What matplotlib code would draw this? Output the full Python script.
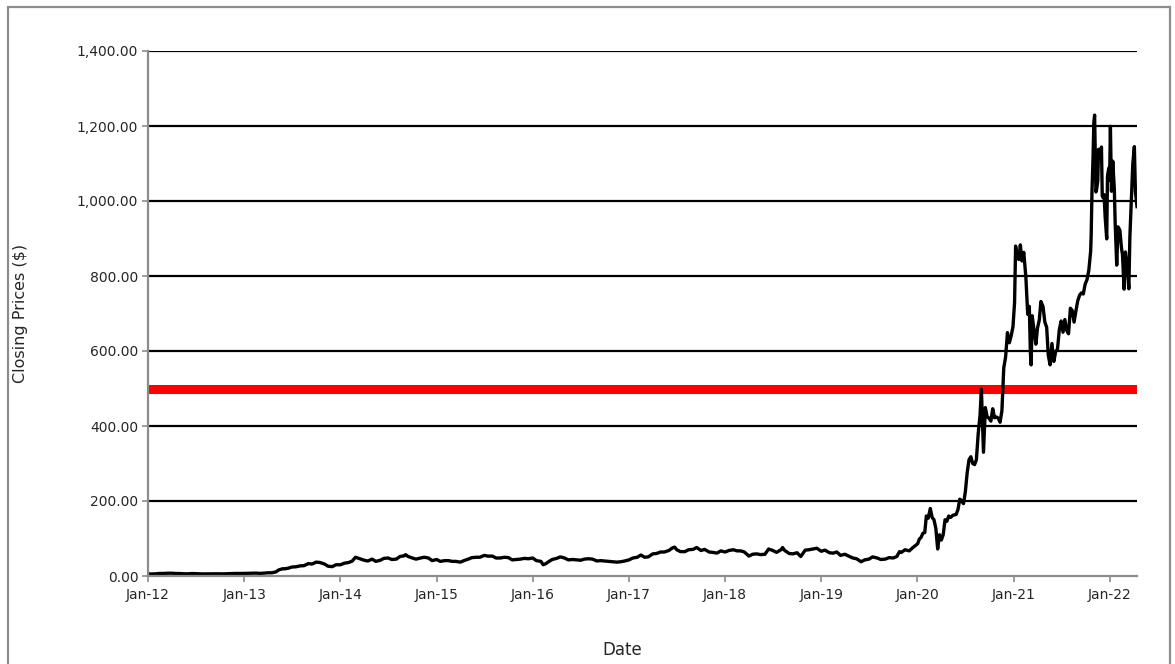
import matplotlib
matplotlib.use("Agg")
import matplotlib.pyplot as plt
import matplotlib.dates as mdates
import matplotlib.ticker as mticker
from matplotlib.patches import Rectangle
import numpy as np
import pandas as pd

# ---- data (closing prices, $) ----
dates_2012_2019 = [
    "2012-01-03", "2012-01-15", "2012-02-01", "2012-02-15", "2012-03-01", "2012-03-15", "2012-04-01", "2012-04-15",
    "2012-05-01", "2012-05-15", "2012-06-01", "2012-06-15", "2012-07-01", "2012-07-15", "2012-08-01", "2012-08-15",
    "2012-09-01", "2012-09-15", "2012-10-01", "2012-10-15", "2012-11-01", "2012-11-15", "2012-12-01", "2012-12-15",
    "2013-01-01", "2013-01-15", "2013-02-01", "2013-02-15", "2013-03-01", "2013-03-15", "2013-04-01", "2013-04-15",
    "2013-05-01", "2013-05-10", "2013-05-15", "2013-05-28", "2013-06-01", "2013-06-15", "2013-07-01", "2013-07-15",
    "2013-08-01", "2013-08-15", "2013-09-01", "2013-09-15", "2013-10-01", "2013-10-15", "2013-11-01", "2013-11-15",
    "2013-12-01", "2013-12-15",
    "2014-01-01", "2014-01-15", "2014-02-01", "2014-02-15", "2014-02-27", "2014-03-15", "2014-04-01", "2014-04-15",
    "2014-05-01", "2014-05-15", "2014-06-01", "2014-06-15", "2014-07-01", "2014-07-15", "2014-08-01", "2014-08-15",
    "2014-09-01", "2014-09-05", "2014-09-15", "2014-10-01", "2014-10-15", "2014-11-01", "2014-11-15", "2014-12-01",
    "2014-12-15",
    "2015-01-01", "2015-01-15", "2015-02-01", "2015-02-15", "2015-03-01", "2015-03-15", "2015-04-01", "2015-04-15",
    "2015-05-01", "2015-05-15", "2015-06-01", "2015-06-15", "2015-07-01", "2015-07-15", "2015-08-01", "2015-08-15",
    "2015-09-01", "2015-09-15", "2015-10-01", "2015-10-15", "2015-11-01", "2015-11-15", "2015-12-01", "2015-12-15",
    "2016-01-01", "2016-01-15", "2016-02-01", "2016-02-10", "2016-02-20", "2016-03-01", "2016-03-15", "2016-04-01",
    "2016-04-15", "2016-05-01", "2016-05-15", "2016-06-01", "2016-06-15", "2016-07-01", "2016-07-15", "2016-08-01",
    "2016-08-15", "2016-09-01", "2016-09-15", "2016-10-01", "2016-10-15", "2016-11-01", "2016-11-15", "2016-12-01",
    "2016-12-15",
    "2017-01-01", "2017-01-15", "2017-02-01", "2017-02-15", "2017-03-01", "2017-03-15", "2017-04-01", "2017-04-15",
    "2017-05-01", "2017-05-15", "2017-06-01", "2017-06-15", "2017-06-23", "2017-07-01", "2017-07-15", "2017-08-01",
    "2017-08-15", "2017-09-01", "2017-09-15", "2017-10-01", "2017-10-15", "2017-11-01", "2017-11-15", "2017-12-01",
    "2017-12-15",
    "2018-01-01", "2018-01-15", "2018-02-01", "2018-02-15", "2018-03-01", "2018-03-15", "2018-04-01", "2018-04-15",
    "2018-05-01", "2018-05-15", "2018-06-01", "2018-06-15", "2018-07-01", "2018-07-15", "2018-08-01", "2018-08-07",
    "2018-08-15", "2018-09-01", "2018-09-15", "2018-10-01", "2018-10-15", "2018-11-01", "2018-11-15", "2018-12-01",
    "2018-12-15",
    "2019-01-01", "2019-01-15", "2019-02-01", "2019-02-15", "2019-03-01", "2019-03-15", "2019-04-01", "2019-04-15",
    "2019-05-01", "2019-05-15", "2019-06-01", "2019-06-15", "2019-07-01", "2019-07-15", "2019-08-01", "2019-08-15",
    "2019-09-01", "2019-09-15", "2019-10-01", "2019-10-15", "2019-10-25", "2019-11-01", "2019-11-15", "2019-12-01",
    "2019-12-15",
]
prices_2012_2019 = [
    5.6, 5.4, 5.9, 6.8, 6.8, 7.3, 7.4, 6.7,
    6.6, 5.9, 5.8, 6.5, 6.3, 5.7, 5.5, 5.7,
    5.8, 5.9, 5.8, 5.7, 6.3, 6.5, 6.8, 6.7,
    7.0, 7.1, 7.5, 7.6, 7.0, 7.5, 8.6, 8.6,
    11.0, 15.5, 17.0, 19.5, 19.0, 20.5, 24.0, 24.5,
    27.0, 27.5, 33.0, 32.0, 37.0, 36.0, 32.0, 26.0,
    25.0, 30.0,
    30.0, 34.0, 36.0, 40.0, 50.0, 46.0, 42.0, 40.0,
    45.0, 39.0, 42.0, 47.0, 48.0, 44.0, 45.0, 52.0,
    54.0, 57.0, 52.0, 48.0, 45.0, 48.0, 50.0, 48.0,
    41.0,
    44.0, 39.0, 41.0, 41.0, 39.0, 39.0, 37.0, 41.0,
    45.0, 49.0, 50.0, 50.0, 55.0, 53.0, 53.0, 48.0,
    48.0, 50.0, 49.0, 43.0, 44.0, 45.0, 47.0, 46.0,
    48.0, 41.0, 39.0, 30.0, 33.0, 38.0, 44.0, 47.0,
    51.0, 48.0, 43.0, 44.0, 43.0, 42.0, 45.0, 46.0,
    45.0, 40.0, 41.0, 40.0, 39.0, 38.0, 37.0, 38.0,
    40.0,
    43.0, 48.0, 50.0, 56.0, 50.0, 51.0, 59.0, 60.0,
    64.0, 64.0, 68.0, 75.0, 77.0, 70.0, 65.0, 65.0,
    70.0, 71.0, 76.0, 68.0, 71.0, 64.0, 63.0, 61.0,
    67.0,
    64.0, 68.0, 70.0, 67.0, 67.0, 64.0, 53.0, 58.0,
    59.0, 57.0, 58.0, 72.0, 68.0, 63.0, 70.0, 76.0,
    68.0, 60.0, 59.0, 62.0, 52.0, 69.0, 70.0, 72.0,
    74.0,
    66.0, 69.0, 62.0, 61.0, 64.0, 55.0, 58.0, 53.0,
    48.0, 46.0, 38.0, 43.0, 45.0, 51.0, 48.0, 44.0,
    45.0, 49.0, 48.0, 52.0, 65.0, 63.0, 70.0, 67.0,
    76.0,
]

dates_2020_2022 = [
    "2020-01-02", "2020-01-08", "2020-01-15", "2020-01-22", "2020-01-29", "2020-02-04", "2020-02-11", "2020-02-19",
    "2020-02-26", "2020-03-04", "2020-03-11", "2020-03-18", "2020-03-25", "2020-04-01", "2020-04-08", "2020-04-15",
    "2020-04-22", "2020-04-29", "2020-05-06", "2020-05-13", "2020-05-20", "2020-05-27", "2020-06-03", "2020-06-10",
    "2020-06-17", "2020-06-24", "2020-07-01", "2020-07-08", "2020-07-13", "2020-07-15", "2020-07-22", "2020-07-29",
    "2020-08-05", "2020-08-12", "2020-08-19", "2020-08-26", "2020-08-31", "2020-09-08", "2020-09-15", "2020-09-22",
    "2020-09-29", "2020-10-06", "2020-10-13", "2020-10-20", "2020-10-27", "2020-11-03", "2020-11-10", "2020-11-17",
    "2020-11-24", "2020-12-01", "2020-12-08", "2020-12-15", "2020-12-22", "2020-12-29",
    "2021-01-04", "2021-01-08", "2021-01-13", "2021-01-20", "2021-01-26", "2021-02-01", "2021-02-08", "2021-02-16",
    "2021-02-23", "2021-03-01", "2021-03-05", "2021-03-08", "2021-03-12", "2021-03-19", "2021-03-26", "2021-04-01",
    "2021-04-08", "2021-04-14", "2021-04-22", "2021-04-29", "2021-05-06", "2021-05-12", "2021-05-19", "2021-05-26",
    "2021-06-02", "2021-06-09", "2021-06-16", "2021-06-23", "2021-06-30", "2021-07-07", "2021-07-14", "2021-07-21",
    "2021-07-28", "2021-08-04", "2021-08-11", "2021-08-18", "2021-08-25", "2021-09-01", "2021-09-08", "2021-09-15",
    "2021-09-22", "2021-09-29", "2021-10-06", "2021-10-13", "2021-10-20", "2021-10-22", "2021-10-25", "2021-10-29",
    "2021-11-01", "2021-11-04", "2021-11-09", "2021-11-12", "2021-11-16", "2021-11-19", "2021-11-24", "2021-11-30",
    "2021-12-03", "2021-12-06", "2021-12-10", "2021-12-14", "2021-12-20", "2021-12-23", "2021-12-28", "2021-12-31",
    "2022-01-03", "2022-01-07", "2022-01-12", "2022-01-18", "2022-01-21", "2022-01-27", "2022-02-01", "2022-02-08",
    "2022-02-14", "2022-02-18", "2022-02-24", "2022-03-01", "2022-03-08", "2022-03-14", "2022-03-18", "2022-03-24",
    "2022-03-29", "2022-04-04", "2022-04-08", "2022-04-12", "2022-04-14",
]
prices_2020_2022 = [
    86, 98, 103, 114, 116, 160, 154, 180,
    156, 150, 127, 72, 110, 96, 110, 150,
    146, 160, 156, 161, 163, 164, 177, 205,
    200, 193, 224, 275, 300, 310, 318, 300,
    297, 310, 380, 430, 498, 330, 449, 424,
    421, 413, 446, 422, 424, 421, 410, 441,
    555, 584, 649, 622, 640, 665,
    729, 880, 854, 844, 883, 840, 863, 796,
    698, 719, 597, 563, 694, 654, 618, 661,
    683, 732, 719, 677, 663, 589, 563, 620,
    572, 598, 605, 657, 680, 650, 684, 655,
    646, 714, 708, 677, 707, 734, 749, 755,
    752, 778, 790, 815, 866, 910, 1024, 1114,
    1208, 1229, 1024, 1033, 1054, 1138, 1116, 1144,
    1014, 1009, 1017, 958, 899, 1067, 1088, 1056,
    1199, 1026, 1106, 1030, 943, 829, 931, 922,
    875, 856, 765, 864, 825, 766, 905, 1013,
    1099, 1145, 1025, 1000, 985,
]

threshold = 500.0
y_ticks = [0, 200, 400, 600, 800, 1000, 1200, 1400]
x_tick_years = list(range(2012, 2023))

dates = pd.to_datetime(dates_2012_2019 + dates_2020_2022)
prices = np.array(prices_2012_2019 + prices_2020_2022, dtype=float)

# ---- figure ----
W, H = 1175, 664
fig = plt.figure(figsize=(W / 100, H / 100), dpi=100)
fig.patch.set_facecolor("white")

# outer chart-area border
fig.patches.append(Rectangle((8 / W, -0.05), (1170 - 8) / W, 1 - 7 / H + 0.05,
                             transform=fig.transFigure, fill=False,
                             edgecolor="#8c8c8c", linewidth=1.6, zorder=0))

ax = fig.add_axes([148 / W, 1 - 576 / H, (1137 - 148) / W, (576 - 51) / H])
ax.set_facecolor("white")

ax.set_ylim(0, 1400)
ax.set_xlim(dates[0], dates[-1])

for v in y_ticks[1:]:
    ax.axhline(v, color="black", linewidth=1.6, zorder=1)

ax.axhline(threshold, color="#ff0000", linewidth=6.5, zorder=2)
ax.plot(dates, prices, color="black", linewidth=2.4, zorder=3, solid_joinstyle="round")

ax.set_yticks(y_ticks)
ax.yaxis.set_major_formatter(mticker.FuncFormatter(lambda v, p: f"{v:,.2f}"))
ax.set_xticks([pd.Timestamp(f"{y}-01-01") for y in x_tick_years])
ax.xaxis.set_major_formatter(mdates.DateFormatter("%b-%y"))

for s in ["top", "right"]:
    ax.spines[s].set_visible(False)
for s in ["left", "bottom"]:
    ax.spines[s].set_color("#8c8c8c")
    ax.spines[s].set_linewidth(1.6)
    ax.spines[s].set_zorder(4)

ax.tick_params(axis="both", colors="#8c8c8c", length=4, width=1.2,
               labelcolor="#262626", labelsize=10)
ax.tick_params(axis="y", pad=3)
ax.tick_params(axis="x", pad=5)

ax.set_ylabel("Closing Prices ($)", fontsize=11.5, color="#262626")
ax.yaxis.set_label_coords(-120 / 989, 0.5)
ax.set_xlabel("Date", fontsize=12, color="#262626")
ax.xaxis.set_label_coords((622 - 148) / 989, -74 / 525)
ax.xaxis.label.set_va("center")

fig.savefig("out.png", dpi=100, facecolor="white")
